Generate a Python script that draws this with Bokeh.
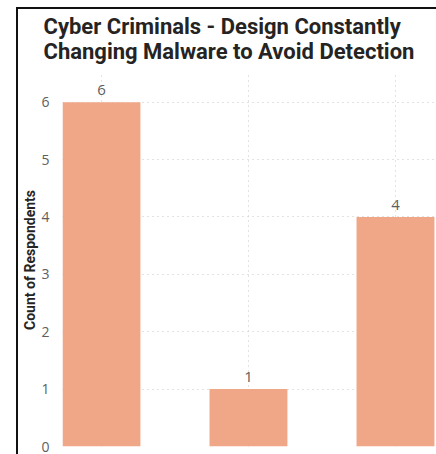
from bokeh.plotting import figure
from bokeh.models import ColumnDataSource, Range1d, FixedTicker, LabelSet, Title
from bokeh.core.properties import value
from bokeh.embed import file_html
from bokeh.resources import INLINE

# Survey responses: count per answer option (left to right)
positions = [0, 1, 2]
counts = [6, 1, 4]
y_ticks = [0, 1, 2, 3, 4, 5, 6]

title_lines = ["Cyber Criminals - Design Constantly",
               "Changing Malware to Avoid Detection"]
y_title = "Count of Respondents"

bar_color = "#F0A788"
label_color = "#605E5C"
grid_color = "#C8C6C4"
edge_color = "#111111"

src = ColumnDataSource(dict(x=positions, y=counts, lbl=[str(c) for c in counts]))

p = figure(width=436, height=454, output_backend="svg", toolbar_location=None,
           x_range=Range1d(-0.265, 2.279), y_range=Range1d(0, 6.5),
           min_border_left=62, min_border_right=0, min_border_bottom=8,
           min_border_top=73)
# transparent outer canvas, so the card edge drawn behind it shows through
p.border_fill_color = None
p.background_fill_color = "white"
p.styles = {
    "background": (f"linear-gradient({edge_color},{edge_color}) 16px 7px / 2px 100% no-repeat, "
                   f"linear-gradient({edge_color},{edge_color}) 16px 7px / 100% 2px no-repeat, "
                   "white"),
}
p.outline_line_color = None

p.title = Title(text="\n".join(title_lines), align="left", offset=-19,
                vertical_align="top",
                text_font="Roboto", text_font_size="22px", text_font_style="bold",
                text_color="#252423", text_line_height=1.0, standoff=16)

p.vbar(x="x", top="y", width=0.53, source=src, color=bar_color, line_color=None)

labels = LabelSet(x="x", y="y", text="lbl", source=src, text_align="center",
                  text_baseline="alphabetic", y_offset=7, text_font=value("Open Sans"),
                  text_font_size=value("15px"), text_color=label_color)
p.add_layout(labels)

p.xaxis.visible = False

p.yaxis.ticker = FixedTicker(ticks=y_ticks)
p.yaxis.axis_line_color = None
p.yaxis.major_tick_line_color = None
p.yaxis.minor_tick_line_color = None
p.yaxis.major_label_standoff = 7
p.yaxis.major_label_text_font = "Open Sans"
p.yaxis.major_label_text_font_size = "14px"
p.yaxis.major_label_text_color = label_color
p.yaxis.axis_label = y_title
p.yaxis.axis_label_text_font = "Roboto"
p.yaxis.axis_label_text_font_style = "bold"
p.yaxis.axis_label_text_font_size = "14px"
p.yaxis.axis_label_text_color = "#252423"
p.yaxis.axis_label_standoff = 0

p.ygrid.ticker = FixedTicker(ticks=y_ticks)
p.ygrid.grid_line_color = grid_color
p.ygrid.grid_line_dash = "1 4"
p.xgrid.ticker = FixedTicker(ticks=positions)
p.xgrid.grid_line_color = grid_color
p.xgrid.grid_line_dash = "1 4"

open("out.html", "w").write(file_html(p, INLINE))
